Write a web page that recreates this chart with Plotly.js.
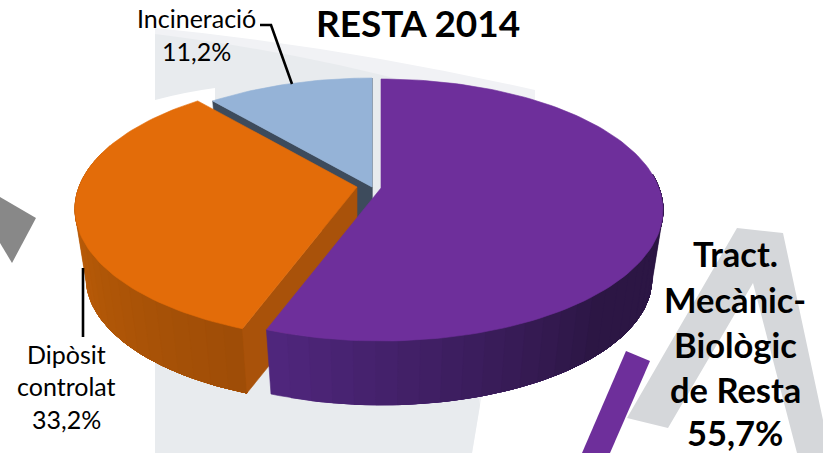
<!DOCTYPE html>
<html>
<head>
<meta charset="utf-8">
<script src="https://cdn.plot.ly/plotly-3.0.1.min.js"></script>
<style>html,body{margin:0;padding:0;background:#fff}#c{width:823px;height:453px}</style>
</head>
<body>
<div id="c"></div>
<script>
const chartTitle = "RESTA 2014";
const categories = ["Tract. Mecànic-Biològic de Resta", "Dipòsit controlat", "Incineració"];
const values = [55.7, 33.2, 11.2];
const valueLabels = ["55,7%", "33,2%", "11,2%"];
const topColors = ["#6E2F9B", "#E36C09", "#95B3D7"];
const blueWall = "#3D4B5C";
const orangeRadialWall = "#A9520A";

// Projection of the tilted pie
const cx = 381, cy = 188, B = 278, A = 127.3, p = 0.168, depth = 70, floorScale = 0.96;
const shifts = [[0, 0], [-24, -1], [-9, -1]];

const total = values.reduce((a, b) => a + b, 0);
const bounds = [];
let acc = 0;
values.forEach(v => { const s = acc; acc += v / total * 360; bounds.push([s, acc]); });

function P(a, r, lvl, sh) {
  const t = a * Math.PI / 180, x = r * Math.sin(t), y = r * Math.cos(t), w = 1 + p * y;
  const s = lvl ? floorScale : 1;
  return [cx + s * B * x / w + sh[0], cy + (lvl ? depth : 0) - s * A * y / w + sh[1]];
}
function arc(a0, a1, lvl, sh) {
  const pts = [], n = Math.max(2, Math.ceil(Math.abs(a1 - a0) / 1.5));
  for (let i = 0; i <= n; i++) pts.push(P(a0 + (a1 - a0) * i / n, 1, lvl, sh));
  return pts;
}
function poly(pts, color) {
  const c = pts.concat([pts[0]]);
  return { type: "scatter", mode: "lines", x: c.map(q => q[0]), y: c.map(q => q[1]),
    fill: "toself", fillcolor: color, line: { color: color, width: 0.6 }, hoverinfo: "skip", showlegend: false };
}
function topFace(i) {
  const [a0, a1] = bounds[i], sh = shifts[i];
  return poly([P(0, 0, 0, sh)].concat(arc(a0, a1, 0, sh)), topColors[i]);
}
function radial(a, sh, color) {
  return poly([P(a, 0, 0, sh), P(a, 1, 0, sh), P(a, 1, 1, sh), P(a, 0, 1, sh)], color);
}
function mix(c1, c2, f) {
  return "rgb(" + c1.map((v, i) => Math.round(v + (c2[i] - v) * f)).join(",") + ")";
}
// Each band runs from its start to the far end of the wall, so later bands paint over it with no seam.
function wall(a0, a1, sh, c0, c1, steps, hold) {
  const out = [];
  for (let i = 0; i < steps; i++) {
    const s = a0 + (a1 - a0) * i / steps;
    const f = Math.min(1, (i + 0.5) / steps / (hold || 1));
    out.push(poly(arc(s, a1, 0, sh).concat(arc(a1, s, 1, sh)), mix(c0, c1, f)));
  }
  return out;
}

const traces = [];
traces.push(radial(bounds[2][0], shifts[2], blueWall));
traces.push(radial(bounds[2][1], shifts[2], blueWall));
traces.push(...wall(290, bounds[1][0], shifts[1], [202, 101, 8], [158, 76, 7], 24));
traces.push(radial(bounds[1][0], shifts[1], orangeRadialWall));
traces.push(topFace(1));
traces.push(topFace(2));
traces.push(...wall(bounds[0][1], 84, shifts[0], [80, 38, 126], [44, 22, 68], 30, 0.55));
traces.push(topFace(0));

// Leader lines
function leader(xs, ys) {
  return { type: "scatter", mode: "lines", x: xs, y: ys, line: { color: "#000", width: 2.6 }, hoverinfo: "skip", showlegend: false };
}
traces.push(leader([260, 271, 292], [25, 25, 84]));
traces.push(leader([83, 83], [268, 337]));

function label(t, x, y, size, bold) {
  return { text: bold ? "<b>" + t + "</b>" : t, x, y, xref: "x", yref: "y", showarrow: false,
    xanchor: "center", yanchor: "middle", font: { family: "Lato, sans-serif", size, color: "#000" } };
}
const annotations = [
  label(chartTitle, 418, 22, 37, true),
  label(categories[2], 196, 18, 25, false),
  label(valueLabels[2], 196, 51, 25, false),
  label("Dipòsit", 66, 354, 25, false),
  label("controlat", 66, 386, 25, false),
  label(valueLabels[1], 66, 419, 25, false),
  label("Tract.", 735, 253, 34.5, true),
  label("Mecànic-", 735, 299, 34.5, true),
  label("Biològic", 735, 344, 34.5, true),
  label("de Resta", 735, 389, 34.5, true),
  label(valueLabels[0], 735, 432, 34.5, true)
];

function bg(path, color) {
  return { type: "path", path, xref: "x", yref: "y", layer: "below", fillcolor: color, line: { width: 0 } };
}
const shapes = [
  bg("M155,28 Q340,46 535,90 L535,120 L480,405 L472,453 L155,453 Z", "#F1F2F5"),
  bg("M155,34 Q300,52 420,85 L480,405 L472,453 L155,453 Z", "#E8EBEE"),
  bg("M155,100 Q185,92 215,88 L215,120 L155,120 Z", "#FFFFFF"),
  bg("M737,228 L783,233 L823,420 L823,453 L797,453 L753,283 L668,428 L627,418 Z", "#D5D7DA"),
  bg("M0,197 L36,218 L12,263 L0,243 Z", "#888888"),
  bg("M626,351 L650,361 L610,453 L582,453 Z", "#6E2F9B")
];

const axis = { visible: false, fixedrange: true, showgrid: false, zeroline: false };
const layout = {
  width: 823, height: 453, margin: { l: 0, r: 0, t: 0, b: 0 },
  paper_bgcolor: "#fff", plot_bgcolor: "#fff", showlegend: false, hovermode: false,
  xaxis: Object.assign({ range: [0, 823] }, axis),
  yaxis: Object.assign({ range: [453, 0] }, axis),
  annotations, shapes
};
Plotly.newPlot("c", traces, layout, { displayModeBar: false, staticPlot: true });
</script>
</body>
</html>
